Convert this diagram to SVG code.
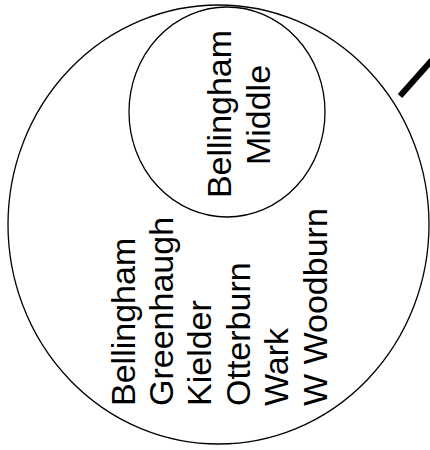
<svg xmlns="http://www.w3.org/2000/svg" width="430" height="450" viewBox="0 0 430 450">
<style>
.shape{fill:none;stroke:#000;stroke-width:1.3}
.lbl{font-family:"Liberation Sans",Arial,sans-serif;font-size:34px;fill:#000}
</style>
<rect width="430" height="450" fill="#fff"/>
<g id="outer">
<ellipse class="shape" cx="218.5" cy="224.5" rx="210.5" ry="219.5"/>
<text class="lbl" transform="rotate(-90)" x="-406" y="135">Bellingham<tspan x="-406" dy="38.2">Greenhaugh</tspan><tspan x="-406" dy="38.2">Kielder</tspan><tspan x="-406" dy="38.2">Otterburn</tspan><tspan x="-406" dy="38.6">Wark</tspan><tspan x="-406" dy="38.6">W Woodburn</tspan></text>
</g>
<g id="inner">
<ellipse class="shape" cx="227" cy="112" rx="98" ry="105"/>
<text class="lbl" transform="rotate(-90)" x="-114" y="231" text-anchor="middle">Bellingham<tspan x="-115" dy="39">Middle</tspan></text>
</g>
<g id="connectors">
<line x1="400" y1="96" x2="432" y2="60" stroke="#000" stroke-width="6"/>
</g>
</svg>
